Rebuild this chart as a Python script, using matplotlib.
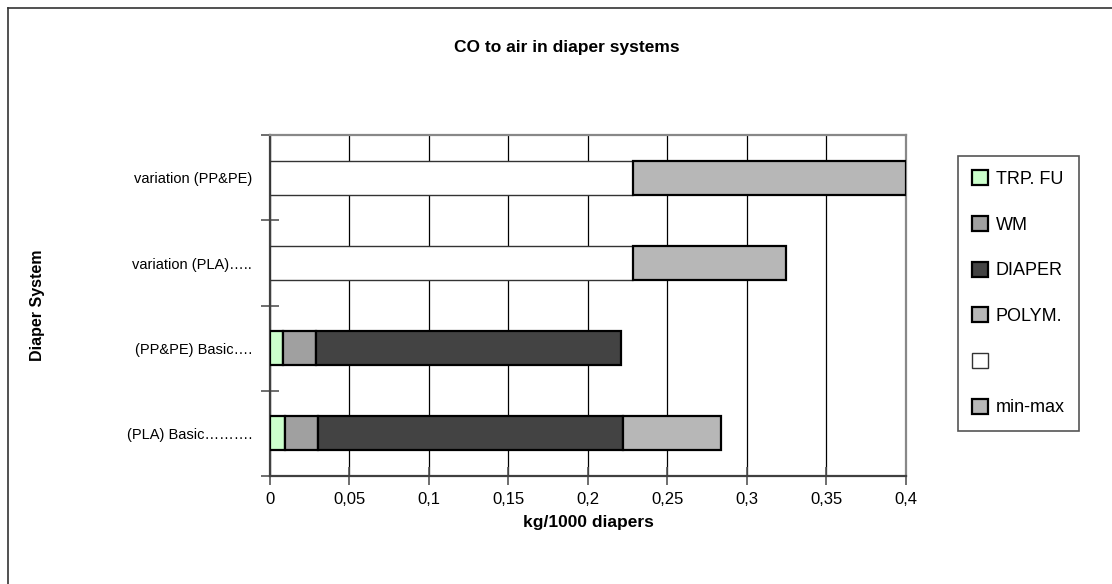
import matplotlib.pyplot as plt
from matplotlib.lines import Line2D
from matplotlib.patches import Patch
from matplotlib.ticker import FuncFormatter, FixedLocator

plt.rcParams['font.family'] = ['Liberation Sans', 'DejaVu Sans']

# Diaper systems, bottom to top
systems = ["(PLA) Basic……….", "(PP&PE) Basic….", "variation (PLA)…..", "variation (PP&PE)"]

# Stacked segment values, kg/1000 diapers
trp_fu = [0.0094, 0.0080, 0.0, 0.0]
wm = [0.0208, 0.0207, 0.0, 0.0]
diaper = [0.1916, 0.1919, 0.0, 0.0]
polym = [0.0620, 0.0, 0.0, 0.0]
blank = [0.0, 0.0, 0.2285, 0.2285]
min_max = [0.0, 0.0, 0.0960, 0.1715]

series = [
    ("TRP. FU", trp_fu, "#ccffcc", "black"),
    ("WM", wm, "#a0a0a0", "black"),
    ("DIAPER", diaper, "#434343", "black"),
    ("POLYM.", polym, "#b7b7b7", "black"),
    ("", blank, "white", "#333333"),
    ("min-max", min_max, "#b7b7b7", "black"),
]

fig = plt.figure(figsize=(11.12, 5.84), dpi=100)
ax = fig.add_axes([0.2428, 0.1849, 0.5719, 0.5834])

# stacked horizontal bars, zero-width segments are skipped
left = [0.0] * len(systems)
handles = []
for name, vals, color, edge in series:
    lw = 1.0 if color == "white" else 1.6
    for i, v in enumerate(vals):
        if v > 0:
            ax.barh(i, v, left=left[i], height=0.4, color=color,
                    edgecolor=edge, linewidth=lw, zorder=3)
        left[i] += v
    handles.append(Patch(facecolor=color, edgecolor=edge, linewidth=lw))

ax.set_xlim(0, 0.4)
ax.set_ylim(-0.5, 3.5)

xt = [0, 0.05, 0.1, 0.15, 0.2, 0.25, 0.3, 0.35, 0.4]
ax.xaxis.set_major_locator(FixedLocator(xt))
ax.xaxis.set_major_formatter(FuncFormatter(lambda v, p: ("%g" % v).replace(".", ",")))
ax.grid(axis="x", color="black", linewidth=0.9, zorder=0)

ax.set_yticks(range(len(systems)))
ax.set_yticklabels(systems)
ax.yaxis.set_minor_locator(FixedLocator([-0.5, 0.5, 1.5, 2.5, 3.5]))
ax.tick_params(axis="y", which="major", length=0, pad=13, labelsize=10.5)
ax.tick_params(axis="y", which="minor", direction="inout", length=13,
               width=1.2, color="#555555")
ax.tick_params(axis="x", direction="inout", length=13, width=1.2,
               color="#555555", labelsize=12, pad=5)

for s in ["left", "bottom"]:
    ax.spines[s].set_color("#404040")
    ax.spines[s].set_linewidth(1.6)
for s in ["top", "right"]:
    ax.spines[s].set_color("#888888")
    ax.spines[s].set_linewidth(1.6)

fig.text(0.51, 0.918, "CO to air in diaper systems", ha="center", va="center",
         fontsize=12.5, fontweight="bold")
fig.text(0.529, 0.106, "kg/1000 diapers", ha="center", va="center",
         fontsize=12.5, fontweight="bold")
fig.text(0.034, 0.478, "Diaper System", ha="center", va="center",
         rotation=90, fontsize=11.5, fontweight="bold")

leg = fig.legend(handles, [s[0] for s in series], loc="upper left",
                 bbox_to_anchor=(0.8612, 0.7334), fontsize=13,
                 labelspacing=1.55, handlelength=0.9, handleheight=0.9,
                 handletextpad=0.4, borderpad=0.8, borderaxespad=0,
                 fancybox=False, framealpha=1)
leg.get_frame().set_edgecolor("#555555")
leg.get_frame().set_linewidth(1.2)

# outer chart frame
fig.add_artist(Line2D([8 / 1112, 8 / 1112], [0, 1 - 8 / 584],
                      transform=fig.transFigure, color="#333333", lw=1.2))
fig.add_artist(Line2D([8 / 1112, 1], [1 - 8 / 584, 1 - 8 / 584],
                      transform=fig.transFigure, color="#333333", lw=1.2))

fig.savefig("out.png", dpi=100)
